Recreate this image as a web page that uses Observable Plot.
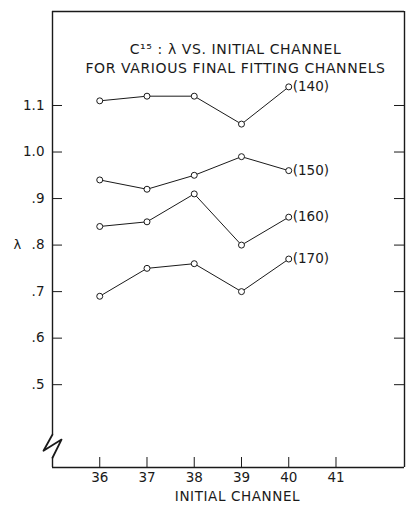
<!DOCTYPE html>
<html>
<head>
<meta charset="utf-8">
<script src="https://cdn.jsdelivr.net/npm/d3@7"></script>
<script src="https://cdn.jsdelivr.net/npm/@observablehq/plot@0.6"></script>
<style>
  html, body { margin: 0; padding: 0; background: #fff; }
  #chart svg { display: block; }
  .spaced text { letter-spacing: 0.6px; }
</style>
</head>
<body>
<div id="chart"></div>
<script>
// ---- data ----
const initialChannels = [36, 37, 38, 39, 40];
const lambda140 = [1.11, 1.12, 1.12, 1.06, 1.14];
const lambda150 = [0.94, 0.92, 0.95, 0.99, 0.96];
const lambda160 = [0.84, 0.85, 0.91, 0.80, 0.86];
const lambda170 = [0.69, 0.75, 0.76, 0.70, 0.77];
const finalChannelLabels = ["(140)", "(150)", "(160)", "(170)"];
const yTicks = [0.5, 0.6, 0.7, 0.8, 0.9, 1.0, 1.1];
const yTickLabels = [".5", ".6", ".7", ".8", ".9", "1.0", "1.1"];
const xTicks = [36, 37, 38, 39, 40, 41];
const titleLines = ["C\u00b9\u2075 : \u03bb VS. INITIAL CHANNEL", "FOR VARIOUS FINAL FITTING CHANNELS"];
const xLabel = "INITIAL CHANNEL";
const yLabel = "\u03bb";

// ---- build tables ----
const seriesValues = [lambda140, lambda150, lambda160, lambda170];
const points = [];
seriesValues.forEach((vals, s) => {
  vals.forEach((v, i) => points.push({series: finalChannelLabels[s], x: initialChannels[i], y: v}));
});
const endLabels = seriesValues.map((vals, s) => ({
  label: finalChannelLabels[s], x: initialChannels[initialChannels.length - 1], y: vals[vals.length - 1]
}));

const xDomain = [35, 42.45];
const yDomain = [0.322, 1.302];
const pxPerX = 352 / (xDomain[1] - xDomain[0]);
const pxPerY = 456 / (yDomain[1] - yDomain[0]);
const tickLenX = 10 / pxPerX;
const tickLenY = 10 / pxPerY;

// axis break (zig-zag) on left axis, in data units
const breakTop = 0.393, breakBottom = 0.343;
const zigzag = [
  {x: xDomain[0], y: breakTop},
  {x: xDomain[0] - 9 / pxPerX, y: 0.358},
  {x: xDomain[0] + 9 / pxPerX, y: 0.382},
  {x: xDomain[0], y: breakBottom}
];

const font = "'DejaVu Sans', sans-serif";
const ink = "#1a1a1a";

const chart = Plot.plot({
  width: 406,
  height: 514,
  marginLeft: 52,
  marginRight: 2,
  marginTop: 11,
  marginBottom: 47,
  style: {fontFamily: font, fontSize: "13px", color: ink, background: "#fff"},
  x: {domain: xDomain},
  y: {domain: yDomain},
  marks: [
    Plot.ruleY([yDomain[1]], {stroke: ink, strokeWidth: 1.4}),
    Plot.ruleY([yDomain[0]], {stroke: ink, strokeWidth: 1.4}),
    Plot.ruleX([xDomain[1]], {stroke: ink, strokeWidth: 1.4}),
    Plot.ruleX([xDomain[0]], {y1: breakTop, y2: yDomain[1], stroke: ink, strokeWidth: 1.4}),
    Plot.ruleX([xDomain[0]], {y1: yDomain[0], y2: breakBottom, stroke: ink, strokeWidth: 1.4}),
    Plot.line(zigzag, {x: "x", y: "y", stroke: ink, strokeWidth: 1.8, curve: "linear"}),
    Plot.ruleY(yTicks, {x1: xDomain[0], x2: xDomain[0] + tickLenX, stroke: ink, strokeWidth: 1}),
    Plot.ruleY(yTicks, {x1: xDomain[1] - tickLenX, x2: xDomain[1], stroke: ink, strokeWidth: 1}),
    Plot.ruleX(xTicks, {y1: yDomain[0], y2: yDomain[0] + tickLenY, stroke: ink, strokeWidth: 1}),
    Plot.axisY(yTicks, {anchor: "left", tickSize: 0, tickPadding: 8, label: null,
      tickFormat: d => yTickLabels[yTicks.indexOf(d)], fontSize: 13.5, fill: ink}),
    Plot.axisX(xTicks, {anchor: "bottom", tickSize: 0, tickPadding: 5, label: null, fontSize: 13.5, fill: ink}),
    Plot.text([xLabel], {frameAnchor: "bottom", dy: 33, dx: 9, fontSize: 13.5, fill: ink, className: "spaced"}),
    Plot.text([{y: 0.8, t: yLabel}], {y: "y", text: "t", frameAnchor: "left", dx: -39, fontSize: 13, fill: ink}),
    Plot.text([titleLines[0]], {frameAnchor: "top", dy: 33, dx: 7, fontSize: 14, fill: ink, className: "spaced"}),
    Plot.text([titleLines[1]], {frameAnchor: "top", dy: 52, dx: 7, fontSize: 14, fill: ink, className: "spaced"}),
    Plot.line(points, {x: "x", y: "y", z: "series", stroke: ink, strokeWidth: 1}),
    Plot.dot(points, {x: "x", y: "y", r: 3, stroke: ink, fill: "#fff", strokeWidth: 1}),
    Plot.text(endLabels, {x: "x", y: "y", text: "label", textAnchor: "start", dx: 4, fontSize: 13.5, fill: ink})
  ]
});
document.getElementById("chart").appendChild(chart);
</script>
</body>
</html>
